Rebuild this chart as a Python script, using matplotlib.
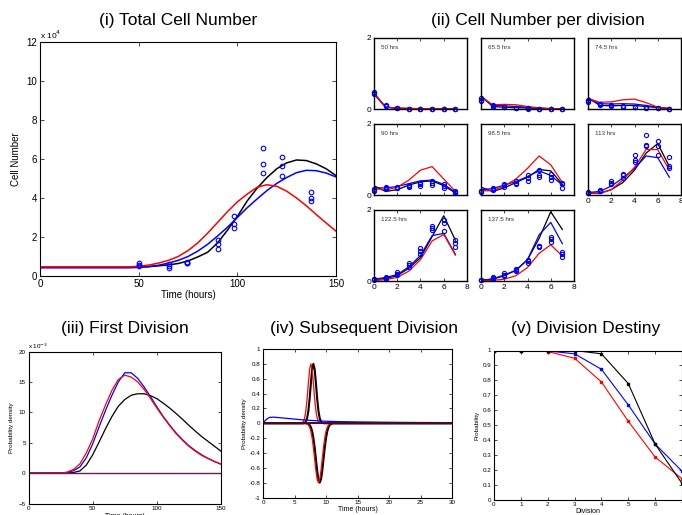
import numpy as np
import matplotlib
matplotlib.use('Agg')
import matplotlib.pyplot as plt
from matplotlib.ticker import FormatStrFormatter

plt.rcParams['font.family'] = ['Liberation Sans', 'DejaVu Sans']

# ---- (i) total cell number, values in units of 1e4 ----
t_total = np.arange(0, 151, 5)
total_black = [0.45, 0.45, 0.45, 0.45, 0.45, 0.45, 0.45, 0.45, 0.45, 0.45,
               0.46, 0.48, 0.52, 0.57, 0.64, 0.77, 0.98, 1.22, 1.7, 2.35,
               3.05, 3.85, 4.5, 5.05, 5.5, 5.8, 5.95, 5.92, 5.75, 5.5, 5.15]
total_blue = [0.42, 0.42, 0.42, 0.42, 0.42, 0.42, 0.42, 0.42, 0.42, 0.42,
              0.44, 0.48, 0.55, 0.66, 0.8, 1.0, 1.28, 1.63, 2.05, 2.5,
              3.0, 3.5, 3.95, 4.38, 4.75, 5.05, 5.3, 5.42, 5.4, 5.28, 5.08]
total_red = [0.47, 0.47, 0.47, 0.47, 0.47, 0.47, 0.47, 0.47, 0.47, 0.47,
             0.5, 0.56, 0.66, 0.8, 1.0, 1.3, 1.7, 2.2, 2.75, 3.3,
             3.8, 4.2, 4.55, 4.68, 4.6, 4.35, 4.0, 3.6, 3.15, 2.72, 2.3]
obs_times = [50, 65.5, 74.5, 90, 98.5, 113, 122.5, 137.5]
obs_total = [[0.65, 0.58, 0.51], [0.62, 0.51, 0.43], [0.73, 0.68, 0.68],
             [1.85, 1.62, 1.4], [3.09, 2.67, 2.44], [6.55, 5.73, 5.26],
             [6.12, 5.66, 5.15], [4.29, 3.98, 3.86]]

# ---- (ii) cell number per division ----
divisions = [0, 1, 2, 3, 4, 5, 6, 7]
panel_labels = ['50 hrs', '65.5 hrs', '74.5 hrs', '90 hrs', '98.5 hrs',
                '113 hrs', '122.5 hrs', '137.5 hrs']
div_black = [[0.42, 0.05, 0.02, 0.01, 0.0, 0.0, 0.0, 0.0],
             [0.38, 0.07, 0.05, 0.04, 0.03, 0.02, 0.01, 0.0],
             [0.33, 0.1, 0.09, 0.1, 0.1, 0.07, 0.04, 0.01],
             [0.26, 0.1, 0.15, 0.28, 0.37, 0.4, 0.26, 0.06],
             [0.22, 0.1, 0.2, 0.35, 0.5, 0.72, 0.68, 0.3],
             [0.06, 0.05, 0.15, 0.35, 0.7, 1.18, 1.45, 0.8],
             [0.04, 0.07, 0.15, 0.36, 0.66, 1.25, 1.84, 1.15],
             [0.02, 0.05, 0.15, 0.3, 0.6, 1.2, 1.95, 1.45]]
div_blue = [[0.45, 0.06, 0.02, 0.01, 0.0, 0.0, 0.0, 0.0],
            [0.33, 0.1, 0.09, 0.07, 0.05, 0.02, 0.01, 0.0],
            [0.28, 0.15, 0.14, 0.15, 0.14, 0.1, 0.05, 0.01],
            [0.2, 0.2, 0.24, 0.32, 0.4, 0.42, 0.3, 0.08],
            [0.15, 0.18, 0.28, 0.38, 0.52, 0.68, 0.55, 0.28],
            [0.07, 0.1, 0.25, 0.48, 0.75, 1.1, 1.05, 0.5],
            [0.05, 0.1, 0.18, 0.4, 0.72, 1.28, 1.34, 0.75],
            [0.02, 0.06, 0.17, 0.3, 0.6, 1.3, 1.65, 1.05]]
div_red = [[0.43, 0.05, 0.03, 0.02, 0.01, 0.01, 0.0, 0.0],
           [0.35, 0.12, 0.13, 0.12, 0.07, 0.03, 0.01, 0.0],
           [0.3, 0.19, 0.2, 0.26, 0.28, 0.18, 0.05, 0.01],
           [0.18, 0.14, 0.22, 0.42, 0.7, 0.8, 0.45, 0.1],
           [0.12, 0.12, 0.25, 0.45, 0.75, 1.1, 0.85, 0.35],
           [0.05, 0.04, 0.15, 0.42, 0.78, 1.28, 1.28, 0.7],
           [0.01, 0.04, 0.1, 0.28, 0.6, 1.13, 1.31, 0.73],
           [0.0, 0.02, 0.05, 0.15, 0.38, 0.78, 1.02, 0.7]]
obs_a = [[0.49, 0.1, 0.03, 0.01, 0.01, 0.0, 0.0, 0.0],
         [0.31, 0.11, 0.07, 0.04, 0.03, 0.01, 0.01, 0.0],
         [0.24, 0.15, 0.11, 0.09, 0.07, 0.05, 0.03, 0.01],
         [0.18, 0.23, 0.23, 0.28, 0.35, 0.4, 0.3, 0.1],
         [0.12, 0.2, 0.32, 0.4, 0.55, 0.7, 0.6, 0.35],
         [0.08, 0.15, 0.4, 0.6, 1.12, 1.7, 1.52, 1.07],
         [0.06, 0.1, 0.25, 0.5, 0.92, 1.56, 1.72, 1.15],
         [0.04, 0.1, 0.22, 0.35, 0.6, 1.0, 1.25, 0.83]]
obs_b = [[0.45, 0.09, 0.03, 0.01, 0.0, 0.0, 0.0, 0.0],
         [0.26, 0.09, 0.06, 0.03, 0.02, 0.01, 0.0, 0.0],
         [0.22, 0.13, 0.1, 0.08, 0.06, 0.04, 0.02, 0.0],
         [0.14, 0.2, 0.2, 0.25, 0.3, 0.35, 0.24, 0.08],
         [0.1, 0.17, 0.28, 0.35, 0.48, 0.55, 0.5, 0.3],
         [0.07, 0.12, 0.35, 0.55, 1.0, 1.42, 1.37, 0.83],
         [0.05, 0.08, 0.2, 0.45, 0.85, 1.5, 1.62, 1.06],
         [0.03, 0.08, 0.18, 0.3, 0.55, 0.98, 1.17, 0.75]]
obs_c = [[0.42, 0.08, 0.02, 0.0, 0.0, 0.0, 0.0, 0.0],
         [0.22, 0.07, 0.05, 0.03, 0.01, 0.0, 0.0, 0.0],
         [0.21, 0.12, 0.09, 0.07, 0.05, 0.04, 0.02, 0.0],
         [0.12, 0.18, 0.19, 0.23, 0.24, 0.29, 0.2, 0.07],
         [0.09, 0.15, 0.22, 0.3, 0.4, 0.5, 0.42, 0.2],
         [0.05, 0.1, 0.3, 0.48, 0.92, 1.38, 1.13, 0.75],
         [0.04, 0.07, 0.17, 0.4, 0.75, 1.44, 1.41, 0.97],
         [0.02, 0.06, 0.15, 0.28, 0.52, 0.96, 1.1, 0.68]]

# ---- (iii) first division density, units of 1e-3 ----
t_first = np.arange(0, 151, 5)
first_blue = [0, 0, 0, 0, 0, 0, 0.1, 0.4, 1.0, 2.5, 4.8, 7.6, 10.3, 12.8, 15.0, 16.5,
              16.5, 15.6, 14.2, 12.6, 10.9, 9.3, 7.9, 6.6, 5.5, 4.5, 3.7, 3.0, 2.4, 1.9, 1.45]
first_red = [0, 0, 0, 0, 0, 0, 0.15, 0.6, 1.5, 3.3, 5.6, 8.6, 11.2, 13.6, 15.4, 16.1,
             15.8, 15.0, 13.8, 12.3, 10.7, 9.2, 7.8, 6.5, 5.4, 4.4, 3.6, 2.9, 2.4, 1.9, 1.5]
first_black = [0, 0, 0, 0, 0, 0, 0, 0.1, 0.35, 1.3, 3.0, 5.1, 7.3, 9.3, 11.0, 12.1,
               12.8, 13.05, 13.05, 12.75, 12.25, 11.5, 10.7, 9.8, 8.85, 7.85, 6.9, 6.0, 5.2, 4.4, 3.6]

# ---- (iv) subsequent division density ----
t_sub = [0, 5.8, 6.0, 6.2, 6.4, 6.6, 6.8, 7.0, 7.2, 7.4, 7.6, 7.8, 8.0, 8.2, 8.4, 8.6,
         8.8, 9.0, 9.2, 9.4, 9.6, 9.8, 10.0, 10.2, 10.4, 10.6, 10.8, 11.0, 11.2, 11.4, 11.6, 11.8, 30]
sub_red_pos = [0, 0, 0.001, 0.006, 0.023, 0.068, 0.165, 0.329, 0.539, 0.725, 0.8, 0.725, 0.539,
               0.329, 0.165, 0.068, 0.023, 0.006, 0.001, 0, 0, 0, 0, 0, 0, 0, 0, 0, 0, 0, 0, 0, 0]
sub_black_pos = [0, 0, 0, 0, 0.001, 0.006, 0.023, 0.068, 0.165, 0.329, 0.539, 0.725, 0.8, 0.725,
                 0.539, 0.329, 0.165, 0.068, 0.023, 0.006, 0.001, 0, 0, 0, 0, 0, 0, 0, 0, 0, 0, 0, 0]
sub_red_neg = [0, 0, 0, 0, 0, 0, -0.003, -0.009, -0.023, -0.053, -0.108, -0.2, -0.329, -0.485,
               -0.641, -0.757, -0.8, -0.757, -0.641, -0.485, -0.329, -0.2, -0.108, -0.053,
               -0.023, -0.009, -0.003, 0, 0, 0, 0, 0, 0]
sub_black_neg = [0, 0, 0, 0, 0, 0, 0, -0.003, -0.009, -0.023, -0.053, -0.108, -0.2, -0.329,
                 -0.485, -0.641, -0.757, -0.8, -0.757, -0.641, -0.485, -0.329, -0.2, -0.108,
                 -0.053, -0.023, -0.009, -0.003, 0, 0, 0, 0, 0]
t_blue_sub = [0, 0.5, 1, 1.5, 2, 3, 4, 6, 8, 10, 12, 15, 20, 25, 30]
sub_blue = [0, 0.05, 0.078, 0.082, 0.08, 0.072, 0.064, 0.048, 0.036, 0.027, 0.022, 0.018,
            0.013, 0.01, 0.008]

# ---- (v) division destiny ----
dest_black = [1.0, 1.0, 1.0, 1.0, 0.978, 0.778, 0.372, 0.108]
dest_blue = [1.0, 1.0, 0.997, 0.978, 0.874, 0.635, 0.372, 0.19]
dest_red = [1.0, 1.0, 0.993, 0.948, 0.789, 0.525, 0.285, 0.139]

W, H = 682, 515


def place(l, t, w, h):
    return [l / W, 1 - (t + h) / H, w / W, h / H]


def style(ax, fs, lw=0.8, tl=3):
    ax.tick_params(direction='in', top=True, right=True, labelsize=fs,
                   length=tl, width=0.5, pad=2)
    for s in ax.spines.values():
        s.set_linewidth(lw)


fig = plt.figure(figsize=(W / 100, H / 100), dpi=100)

# (i)
ax = fig.add_axes(place(40, 42, 296, 234))
ax.plot(t_total, total_black, color='black', lw=1.1)
ax.plot(t_total, total_blue, color='blue', lw=1.1)
ax.plot(t_total, total_red, color='red', lw=1.1)
for t, vals in zip(obs_times, obs_total):
    ax.plot([t] * len(vals), vals, 'o', mfc='none', mec='blue', ms=3.3, mew=0.8)
ax.set_xlim(0, 150)
ax.set_ylim(0, 12)
ax.set_xticks([0, 50, 100, 150])
ax.set_yticks([0, 2, 4, 6, 8, 10, 12])
style(ax, 7)
ax.set_xlabel('Time (hours)', fontsize=7, labelpad=1)
ax.set_ylabel('Cell Number', fontsize=7, labelpad=4)
ax.text(0, 1.005, r'x 10$^4$', transform=ax.transAxes, fontsize=6, va='bottom', ha='left')
fig.text(178 / W, 1 - 20 / H, '(i) Total Cell Number', fontsize=12.5, ha='center', va='center')

# (ii)
cols = [374, 481, 588]
rows = [38, 124, 210]
for k in range(8):
    r, c = divmod(k, 3)
    a = fig.add_axes(place(cols[c], rows[r], 93, 71))
    a.plot(divisions, div_black[k], color='black', lw=0.9)
    a.plot(divisions, div_blue[k], color='blue', lw=0.9)
    a.plot(divisions, div_red[k], color='red', lw=0.9)
    for rep in (obs_a, obs_b, obs_c):
        a.plot(divisions, rep[k], 'o', mfc='none', mec='blue', ms=3, mew=0.8, clip_on=False)
    a.set_xlim(0, 8)
    a.set_ylim(0, 2)
    a.set_xticks([0, 2, 4, 6, 8])
    a.set_yticks([0, 2])
    style(a, 6, lw=1.0, tl=2)
    if c != 0:
        a.set_yticklabels([])
    if k not in (5, 6, 7):
        a.set_xticklabels([])
    a.text(0.08, 0.86, panel_labels[k], transform=a.transAxes, fontsize=4.5,
           color='#333333', va='center')
fig.text(538 / W, 1 - 20 / H, '(ii) Cell Number per division', fontsize=12.5,
         ha='center', va='center')

# (iii)
ax3 = fig.add_axes(place(28.5, 351.5, 192.5, 152))
ax3.plot(t_first, first_black, color='black', lw=0.9)
ax3.plot(t_first, first_blue, color='blue', lw=0.9)
ax3.plot(t_first, first_red, color='red', lw=0.9)
ax3.axhline(0, color='#6a1a55', lw=1.0)
ax3.set_xlim(0, 150)
ax3.set_ylim(-5, 20)
ax3.set_xticks([0, 50, 100, 150])
ax3.set_yticks([-5, 0, 5, 10, 15, 20])
style(ax3, 4.5, tl=2)
ax3.set_ylabel('Probability density', fontsize=4.5, labelpad=3)
ax3.set_xlabel('Time (hours)', fontsize=5, labelpad=1)
ax3.text(0, 1.005, r'x 10$^{-3}$', transform=ax3.transAxes, fontsize=4.5, va='bottom')
fig.text(125 / W, 1 - 328 / H, '(iii) First Division', fontsize=12.5, ha='center', va='center')

# (iv)
ax4 = fig.add_axes(place(263, 349, 189, 148.5))
ax4.plot(t_sub, sub_black_pos, color='black', lw=1.5)
ax4.plot(t_sub, sub_black_neg, color='black', lw=1.5)
ax4.plot(t_sub, sub_red_pos, color='red', lw=0.9)
ax4.plot(t_sub, sub_red_neg, color='red', lw=0.9)
ax4.plot(t_blue_sub, sub_blue, color='blue', lw=0.9)
ax4.axhline(0, color='#4a0a20', lw=1.4)
ax4.set_xlim(0, 30)
ax4.set_ylim(-1, 1)
ax4.set_xticks([0, 5, 10, 15, 20, 25, 30])
ax4.set_yticks([-1, -0.8, -0.6, -0.4, -0.2, 0, 0.2, 0.4, 0.6, 0.8, 1])
ax4.yaxis.set_major_formatter(FormatStrFormatter('%g'))
style(ax4, 4.5, tl=2)
ax4.set_ylabel('Probability density', fontsize=4.5, labelpad=2)
ax4.set_xlabel('Time (hours)', fontsize=5, labelpad=0.5)
fig.text(364 / W, 1 - 328 / H, '(iv) Subsequent Division', fontsize=12.5, ha='center', va='center')

# (v)
ax5 = fig.add_axes(place(494, 350.5, 188, 149))
ax5.plot(divisions, dest_red, '-s', color='red', lw=0.8, ms=2)
ax5.plot(divisions, dest_blue, '-s', color='blue', lw=0.8, ms=2)
ax5.plot(divisions, dest_black, '-s', color='black', lw=0.8, ms=2)
ax5.set_xlim(0, 7)
ax5.set_ylim(0, 1)
ax5.set_xticks(divisions)
ax5.set_yticks([0, 0.1, 0.2, 0.3, 0.4, 0.5, 0.6, 0.7, 0.8, 0.9, 1])
ax5.yaxis.set_major_formatter(FormatStrFormatter('%g'))
style(ax5, 4.5, tl=2)
ax5.set_ylabel('Probability', fontsize=4.5, labelpad=2)
ax5.set_xlabel('Division', fontsize=5, labelpad=0.5)
fig.text(586 / W, 1 - 328 / H, '(v) Division Destiny', fontsize=12.5, ha='center', va='center')

fig.savefig('out.png', dpi=100)
